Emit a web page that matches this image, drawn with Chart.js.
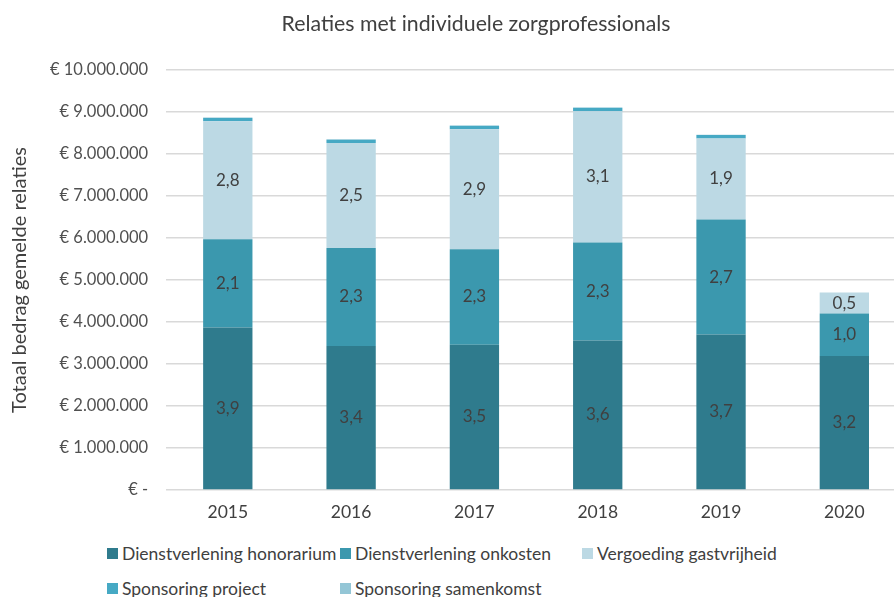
<!DOCTYPE html>
<html>
<head>
<meta charset="utf-8">
<script src="https://cdn.jsdelivr.net/npm/chart.js@4"></script>
<style>
  body { margin: 0; overflow: hidden; background: #fff; font-family: Lato, sans-serif; }
  #wrap { position: relative; width: 950px; height: 527px; }
  #title { position: absolute; left: 276px; width: 400px; top: 10px; text-align: center; font-size: 21.3px; color: #404040; white-space: nowrap; }
  #legend { position: absolute; left: 0; top: 543px; width: 894px; color: #404040; font-size: 17.5px; }
  .item { position: absolute; display: flex; align-items: center; white-space: nowrap; }
  .box { width: 11px; height: 11px; margin-right: 4px; }
</style>
</head>
<body>
<div id="wrap"><canvas id="myChart"></canvas></div>
<div id="title">Relaties met individuele zorgprofessionals</div>
<div id="legend"></div>
<script>
// data block (values in millions of euros)
const years = ["2015", "2016", "2017", "2018", "2019", "2020"];
const honorarium = [3.87, 3.43, 3.46, 3.56, 3.70, 3.19];
const onkosten = [2.10, 2.33, 2.27, 2.33, 2.74, 1.01];
const gastvrijheid = [2.81, 2.50, 2.86, 3.13, 1.93, 0.50];
const sponsProject = [0.08, 0.08, 0.08, 0.08, 0.08, 0.0];
const sponsSamenkomst = [0.01, 0.01, 0.01, 0.01, 0.01, 0.0];
const yTickLabels = ["€ -", "€ 1.000.000", "€ 2.000.000", "€ 3.000.000", "€ 4.000.000",
  "€ 5.000.000", "€ 6.000.000", "€ 7.000.000", "€ 8.000.000", "€ 9.000.000", "€ 10.000.000"];

const series = [
  { label: "Dienstverlening honorarium", data: honorarium, color: "#2f7b8d", showLabel: true },
  { label: "Dienstverlening onkosten", data: onkosten, color: "#3b98ae", showLabel: true },
  { label: "Vergoeding gastvrijheid", data: gastvrijheid, color: "#bcd9e4", showLabel: true },
  { label: "Sponsoring project", data: sponsProject, color: "#46a9c4", showLabel: false },
  { label: "Sponsoring samenkomst", data: sponsSamenkomst, color: "#94c6d6", showLabel: false },
];

const data = {
  labels: years,
  datasets: series.map(s => ({
    label: s.label,
    data: s.data,
    backgroundColor: s.color,
    borderWidth: 0,
    barPercentage: 0.4,
    categoryPercentage: 1.0,
  })),
};

// plugin - value labels in the middle of the segments
const segmentLabels = {
  id: "segmentLabels",
  afterDatasetsDraw(chart) {
    const ctx = chart.ctx;
    ctx.save();
    ctx.font = "17px Lato, sans-serif";
    ctx.fillStyle = "#404040";
    ctx.textAlign = "center";
    ctx.textBaseline = "middle";
    series.forEach((s, i) => {
      if (!s.showLabel) return;
      chart.getDatasetMeta(i).data.forEach((bar, j) => {
        const v = s.data[j];
        if (!v) return;
        ctx.fillText(v.toFixed(1).replace(".", ","), bar.x, (bar.y + bar.base) / 2);
      });
    });
    ctx.restore();
  },
};

// config block
const config = {
  type: "bar",
  data: data,
  options: {
    responsive: true,
    maintainAspectRatio: false,
    animation: false,
    layout: { padding: { left: 8, right: 44, top: 70, bottom: 0 } },
    plugins: {
      legend: { display: false },
      tooltip: { enabled: false },
    },
    scales: {
      x: {
        stacked: true,
        grid: { display: false },
        border: { display: false },
        ticks: { color: "#404040", font: { family: "Lato", size: 17.5 }, padding: 4 },
      },
      y: {
        stacked: true,
        min: 0,
        max: 10,
        ticks: {
          stepSize: 1,
          color: "#505050",
          font: { family: "Lato", size: 16.5 },
          padding: 18,
          callback: (v, i) => yTickLabels[i],
        },
        grid: { color: "#d9d9d9", lineWidth: 1.5, drawTicks: false },
        border: { display: false },
        title: {
          display: true,
          text: "Totaal bedrag gemelde relaties",
          color: "#404040",
          font: { family: "Lato", size: 20 },
          padding: { top: 0, bottom: 0 },
        },
      },
    },
  },
  plugins: [segmentLabels],
};

// render init block
const myChart = new Chart(document.getElementById("myChart"), config);

// legend laid out in columns like the original
const legendPos = [[107, 0], [340, 0], [582, 0], [107, 35], [340, 35]];
const legend = document.getElementById("legend");
series.forEach((s, i) => {
  const item = document.createElement("div");
  item.className = "item";
  item.style.left = legendPos[i][0] + "px";
  item.style.top = legendPos[i][1] + "px";
  item.innerHTML = '<span class="box" style="background:' + s.color + '"></span>' + s.label;
  legend.appendChild(item);
});
</script>
</body>
</html>
